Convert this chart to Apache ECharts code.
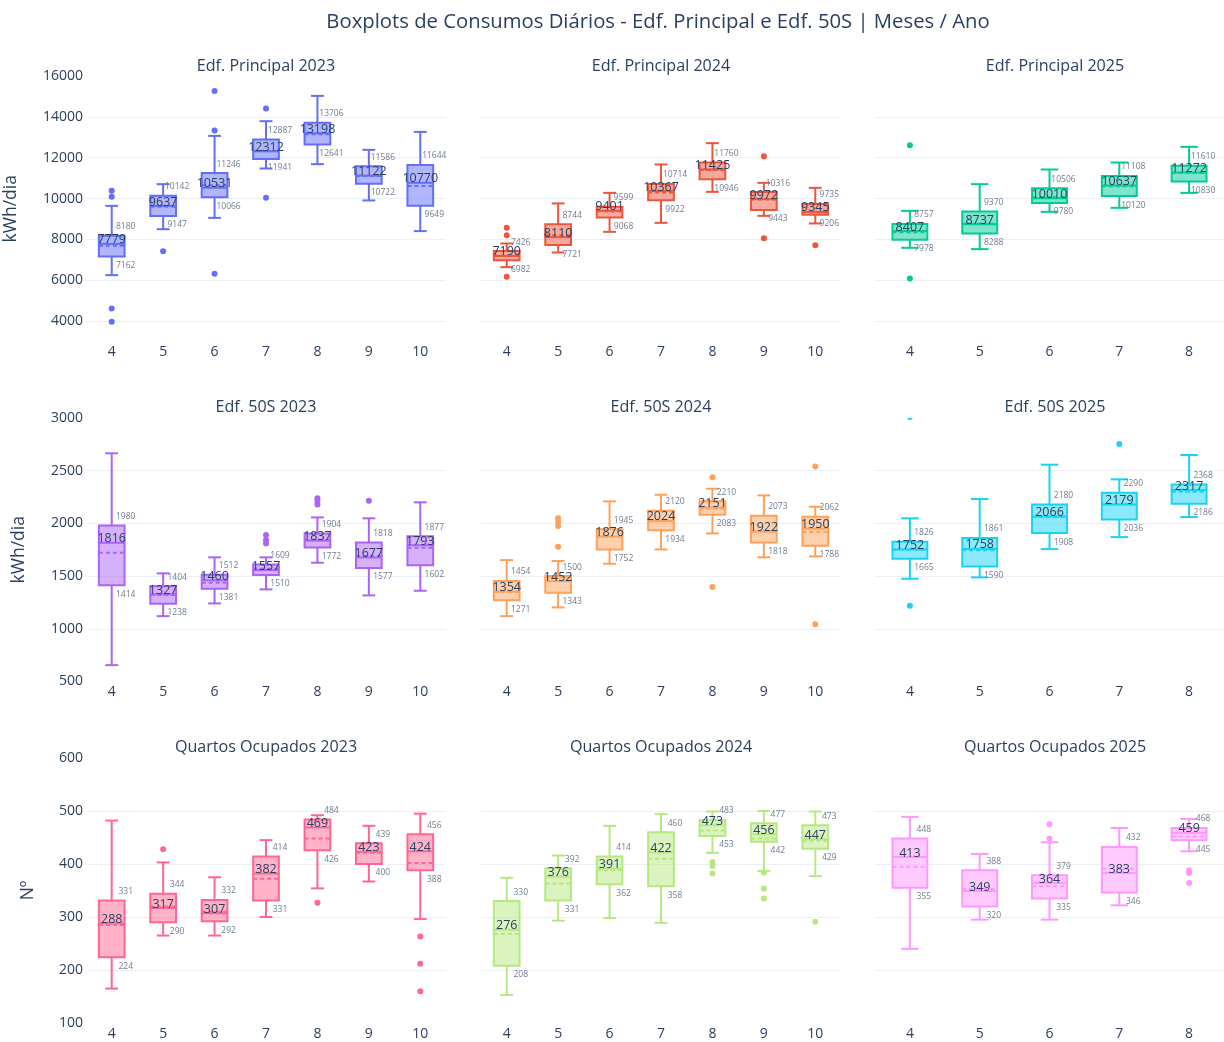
<!DOCTYPE html>
<html>
<head>
<meta charset="utf-8">
<title>Boxplots de Consumos Diários</title>
<script src="https://cdn.jsdelivr.net/npm/echarts@6/dist/echarts.min.js"></script>
<style>
  html, body { margin: 0; padding: 0; background: #ffffff; }
  #chart { width: 1224px; height: 1042px; }
</style>
</head>
<body>
<div id="chart"></div>
<script>
// Month categories
const monthsApOct = ['4', '5', '6', '7', '8', '9', '10'];
const monthsApAug = ['4', '5', '6', '7', '8'];

// Box statistics per month: [whisker low, Q1, median, Q3, whisker high, mean]
const principal2023 = [
  [6249, 7162, 7779, 8180, 9643, 7690],
  [8500, 9147, 9637, 10142, 10704, 9600],
  [9055, 10066, 10531, 11246, 13068, 10650],
  [11472, 11941, 12312, 12887, 13788, 12330],
  [11683, 12641, 13198, 13706, 15026, 13150],
  [9906, 10722, 11122, 11586, 12384, 11100],
  [8404, 9649, 10770, 11644, 13264, 10620]
];
const principal2023Outliers = [['4', 10376], ['4', 10083], ['4', 4619], ['4', 3964], ['5', 7424],
  ['6', 15271], ['6', 13332], ['6', 6314], ['7', 14409], ['7', 10035]];

const principal2024 = [
  [6641, 6982, 7190, 7426, 7800, 7200],
  [7360, 7721, 8110, 8744, 9760, 8200],
  [8370, 9068, 9401, 9599, 10278, 9380],
  [8810, 9922, 10367, 10714, 11668, 10300],
  [10328, 10946, 11425, 11760, 12711, 11400],
  [9152, 9443, 9972, 10316, 10768, 9950],
  [8780, 9206, 9345, 9735, 10523, 9330]
];
const principal2024Outliers = [['4', 8566], ['4', 8207], ['4', 6168], ['9', 12075], ['9', 8061], ['10', 7718]];

const principal2025 = [
  [7587, 7978, 8407, 8757, 9398, 8350],
  [7522, 8288, 8737, 9370, 10704, 8760],
  [9349, 9780, 10010, 10506, 11422, 10060],
  [9545, 10120, 10637, 11108, 11765, 10600],
  [10278, 10830, 11272, 11610, 12531, 11250]
];
const principal2025Outliers = [['4', 12613], ['4', 6088]];

const edf50S2023 = [
  [655, 1414, 1816, 1980, 2665, 1722],
  [1120, 1238, 1327, 1404, 1526, 1320],
  [1241, 1381, 1460, 1512, 1678, 1437],
  [1374, 1510, 1557, 1609, 1678, 1570],
  [1627, 1772, 1837, 1904, 2057, 1840],
  [1317, 1577, 1677, 1818, 2048, 1690],
  [1361, 1602, 1793, 1877, 2200, 1770]
];
const edf50S2023Outliers = [['7', 1889], ['7', 1842], ['7', 1810], ['8', 2238], ['8', 2212], ['8', 2180], ['9', 2215]];

const edf50S2024 = [
  [1120, 1271, 1354, 1454, 1652, 1350],
  [1203, 1343, 1452, 1500, 1643, 1490],
  [1617, 1752, 1876, 1945, 2209, 1870],
  [1753, 1934, 2024, 2120, 2272, 2020],
  [1905, 2083, 2151, 2210, 2329, 2140],
  [1678, 1818, 1922, 2073, 2266, 1930],
  [1687, 1788, 1950, 2062, 2158, 1918]
];
const edf50S2024Outliers = [['5', 2048], ['5', 2016], ['5', 1975], ['5', 1778], ['8', 2437], ['8', 1396],
  ['10', 2541], ['10', 1042]];

const edf50S2025 = [
  [1475, 1665, 1752, 1826, 2048, 1750],
  [1488, 1590, 1758, 1861, 2231, 1745],
  [1756, 1908, 2066, 2180, 2557, 2060],
  [1870, 2036, 2179, 2290, 2418, 2180],
  [2060, 2186, 2317, 2368, 2649, 2300]
];
const edf50S2025Outliers = [['4', 3010], ['4', 1218], ['7', 2753]];

const quartos2023 = [
  [165, 224, 288, 331, 482, 285],
  [265, 290, 317, 344, 403, 320],
  [265, 292, 307, 332, 375, 310],
  [300, 331, 382, 414, 445, 372],
  [354, 426, 469, 484, 492, 448],
  [367, 400, 423, 439, 472, 421],
  [296, 388, 424, 456, 495, 402]
];
const quartos2023Outliers = [['5', 428], ['8', 327], ['10', 263], ['10', 212], ['10', 160]];

const quartos2024 = [
  [153, 208, 276, 330, 374, 268],
  [293, 331, 376, 392, 416, 363],
  [298, 362, 391, 414, 472, 388],
  [289, 358, 422, 460, 494, 410],
  [421, 453, 473, 483, 499, 463],
  [387, 442, 456, 477, 500, 448],
  [377, 429, 447, 473, 499, 444]
];
const quartos2024Outliers = [['8', 404], ['8', 396], ['8', 382], ['9', 384], ['9', 354], ['9', 335], ['10', 291]];

const quartos2025 = [
  [240, 355, 413, 448, 489, 395],
  [295, 320, 349, 388, 419, 353],
  [295, 335, 364, 379, 441, 358],
  [322, 346, 383, 432, 468, 391],
  [424, 445, 459, 468, 485, 452]
];
const quartos2025Outliers = [['6', 475], ['6', 448], ['8', 388], ['8', 383], ['8', 364]];

// Panel definitions (row, column, title, colour, data)
const panels = [
  { row: 0, col: 0, title: 'Edf. Principal 2023', color: '#636efa', months: monthsApOct, stats: principal2023, outliers: principal2023Outliers },
  { row: 0, col: 1, title: 'Edf. Principal 2024', color: '#ef553b', months: monthsApOct, stats: principal2024, outliers: principal2024Outliers },
  { row: 0, col: 2, title: 'Edf. Principal 2025', color: '#00cc96', months: monthsApAug, stats: principal2025, outliers: principal2025Outliers },
  { row: 1, col: 0, title: 'Edf. 50S 2023', color: '#ab63fa', months: monthsApOct, stats: edf50S2023, outliers: edf50S2023Outliers },
  { row: 1, col: 1, title: 'Edf. 50S 2024', color: '#ffa15a', months: monthsApOct, stats: edf50S2024, outliers: edf50S2024Outliers },
  { row: 1, col: 2, title: 'Edf. 50S 2025', color: '#19d3f3', months: monthsApAug, stats: edf50S2025, outliers: edf50S2025Outliers },
  { row: 2, col: 0, title: 'Quartos Ocupados 2023', color: '#ff6692', months: monthsApOct, stats: quartos2023, outliers: quartos2023Outliers },
  { row: 2, col: 1, title: 'Quartos Ocupados 2024', color: '#b6e880', months: monthsApOct, stats: quartos2024, outliers: quartos2024Outliers },
  { row: 2, col: 2, title: 'Quartos Ocupados 2025', color: '#ff97ff', months: monthsApAug, stats: quartos2025, outliers: quartos2025Outliers }
];

// Value axis settings per row
const rowAxes = [
  { min: 3000, max: 16000, step: 2000, name: 'kWh/dia', nameGap: 66 },
  { min: 500, max: 3000, step: 500, name: 'kWh/dia', nameGap: 58 },
  { min: 100, max: 600, step: 100, name: 'Nº', nameGap: 49 }
];

// Layout of the 3 x 3 grid
const colLeft = [86, 481, 875];
const colWidth = 360;
const rowTop = [76, 418, 758];
const rowHeight = [265.5, 263.5, 265];

const FONT = '"Open Sans", "Noto Sans", sans-serif';
const TEXT = '#2a3f5f';
const GRID_LINE = '#ebf0f8';

function hexToRgba(hex, a) {
  const n = parseInt(hex.slice(1), 16);
  return 'rgba(' + ((n >> 16) & 255) + ',' + ((n >> 8) & 255) + ',' + (n & 255) + ',' + a + ')';
}

// Draws one box: whiskers with caps, filled box, median line, dashed mean line and labels
function boxRenderer(color) {
  const fill = hexToRgba(color, 0.5);
  return function (params, api) {
    const c = api.value(0);
    const low = api.coord([c, api.value(1)]);
    const q1 = api.coord([c, api.value(2)]);
    const med = api.coord([c, api.value(3)]);
    const q3 = api.coord([c, api.value(4)]);
    const high = api.coord([c, api.value(5)]);
    const mean = api.coord([c, api.value(6)]);
    const band = api.size([1, 0])[0];
    const half = band * 0.25;
    const cap = half * 0.5;
    const x = med[0];
    const stroke = { stroke: color, lineWidth: 2, fill: null };
    const seg = (x1, y1, x2, y2, style) => ({ type: 'line', shape: { x1, y1, x2, y2 }, style });
    const label = (text, lx, ly, size, fillColor) => ({
      type: 'text', x: lx, y: ly, z2: 10,
      style: { text: text, fontSize: size, fontFamily: FONT, fill: fillColor, align: 'center', verticalAlign: 'middle' }
    });
    return {
      type: 'group',
      children: [
        seg(x, q3[1], x, high[1], stroke),
        seg(x, q1[1], x, low[1], stroke),
        seg(x - cap, high[1], x + cap, high[1], stroke),
        seg(x - cap, low[1], x + cap, low[1], stroke),
        { type: 'rect', shape: { x: x - half, y: q3[1], width: half * 2, height: q1[1] - q3[1] },
          style: { fill: fill, stroke: color, lineWidth: 2 } },
        seg(x - half, med[1], x + half, med[1], stroke),
        seg(x - half, mean[1], x + half, mean[1], { stroke: color, lineWidth: 2, lineDash: [4, 3], fill: null }),
        label(String(api.value(3)), x, med[1] - 4, 12.5, TEXT),
        label(String(api.value(4)), x + 14, q3[1] - 9, 8.5, '#6f7d92'),
        label(String(api.value(2)), x + 14, q1[1] + 9, 8.5, '#6f7d92')
      ]
    };
  };
}

function outlierRenderer(color) {
  return function (params, api) {
    const p = api.coord([api.value(0), api.value(1)]);
    return { type: 'circle', shape: { cx: p[0], cy: p[1], r: 3 }, style: { fill: color } };
  };
}

const grids = [], xAxes = [], yAxes = [], series = [];
const titles = [{
  text: 'Boxplots de Consumos Diários - Edf. Principal e Edf. 50S | Meses / Ano',
  left: 658, top: 22, padding: 0, textAlign: 'center', textVerticalAlign: 'middle',
  textStyle: { fontFamily: FONT, fontSize: 20.3, fontWeight: 'normal', color: TEXT }
}];
const titleY = [66, 407, 747];

panels.forEach((p, i) => {
  const ax = rowAxes[p.row];
  grids.push({ left: colLeft[p.col], top: rowTop[p.row], width: colWidth, height: rowHeight[p.row], containLabel: false });
  titles.push({
    text: p.title, left: colLeft[p.col] + colWidth / 2, top: titleY[p.row], padding: 0,
    textAlign: 'center', textVerticalAlign: 'middle',
    textStyle: { fontFamily: FONT, fontSize: 16.1, fontWeight: 'normal', color: TEXT }
  });
  xAxes.push({
    type: 'category', gridIndex: i, data: p.months, boundaryGap: true,
    axisLine: { show: false }, axisTick: { show: false }, splitLine: { show: false },
    axisLabel: { fontFamily: FONT, fontSize: 14, color: TEXT, margin: 4 }
  });
  yAxes.push({
    type: 'value', gridIndex: i, min: ax.min, max: ax.max,
    minInterval: ax.step, maxInterval: ax.step,
    name: p.col === 0 ? ax.name : '', nameLocation: 'middle', nameGap: ax.nameGap, nameRotate: 90,
    nameTextStyle: { fontFamily: FONT, fontSize: 17.5, color: TEXT },
    axisLine: { show: false }, axisTick: { show: false },
    splitLine: { show: true, showMinLine: false, showMaxLine: false, lineStyle: { color: GRID_LINE, width: 1 } },
    axisLabel: {
      show: p.col === 0, showMinLabel: ax.min % ax.step === 0, fontFamily: FONT, fontSize: 14, color: TEXT, margin: 3,
      formatter: v => String(v)
    }
  });
  series.push({
    type: 'custom', name: p.title, xAxisIndex: i, yAxisIndex: i,
    renderItem: boxRenderer(p.color), clip: false,
    encode: { x: 0, y: [1, 2, 3, 4, 5, 6] },
    data: p.stats.map((s, k) => [k].concat(s))
  });
  series.push({
    type: 'custom', name: p.title + ' outliers', xAxisIndex: i, yAxisIndex: i,
    renderItem: outlierRenderer(p.color), clip: true,
    encode: { x: 0, y: 1 },
    data: p.outliers.map(o => [p.months.indexOf(o[0]), o[1]])
  });
});

const chart = echarts.init(document.getElementById('chart'), null, { renderer: 'canvas' });
chart.setOption({
  backgroundColor: '#ffffff',
  animation: false,
  title: titles,
  grid: grids,
  xAxis: xAxes,
  yAxis: yAxes,
  series: series
});
</script>
</body>
</html>
